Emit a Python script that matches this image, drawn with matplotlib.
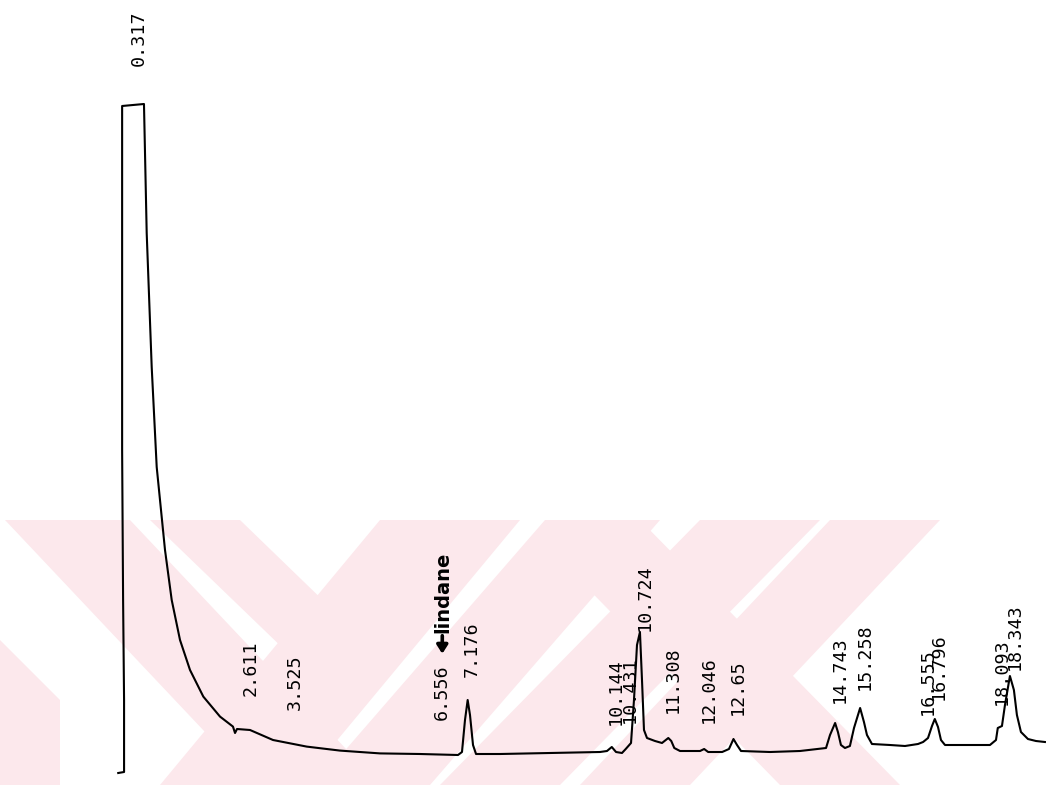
import numpy as np
import matplotlib
matplotlib.use("Agg")
import matplotlib.pyplot as plt
from matplotlib.patches import Polygon
from matplotlib.transforms import offset_copy

# Detector trace: retention time (min) and response (arbitrary units)
trace_time = [
    -0.02, 0.10, 0.10, 0.08, 0.06, 0.06, 0.06, 0.51, 0.566, 0.669, 0.772, 0.875,
    0.943, 1.081, 1.252, 1.458, 1.732, 2.076, 2.343, 2.385, 2.426, 2.694, 3.167,
    3.861, 4.547, 5.371, 6.194, 6.977, 7.059, 7.121, 7.176, 7.224, 7.286, 7.348,
    7.842, 8.871, 9.901, 10.045, 10.144, 10.231, 10.354, 10.431, 10.540, 10.601,
    10.663, 10.724, 10.766, 10.807, 10.869, 11.034, 11.178, 11.308, 11.369,
    11.431, 11.549, 11.961, 12.046, 12.129, 12.417, 12.557, 12.65, 12.723,
    12.805, 13.403, 14.020, 14.556, 14.638, 14.743, 14.801, 14.863, 14.946,
    15.048, 15.132, 15.258, 15.337, 15.399, 15.502, 15.873, 16.182, 16.450,
    16.555, 16.656, 16.738, 16.796, 16.862, 16.923, 17.006, 17.314, 17.932,
    18.056, 18.093, 18.179, 18.241, 18.343, 18.425, 18.487, 18.570, 18.714,
    18.879, 19.064,
]
trace_signal = [
    -1.00, -0.95, 2.65, 7.65, 15.15, 22.65, 32.35, 32.45, 26.0, 19.3, 14.3, 11.8,
    10.15, 7.65, 5.65, 4.15, 2.82, 1.82, 1.32, 1.00, 1.20, 1.15, 0.65,
    0.32, 0.12, -0.02, -0.05, -0.10, 0.05, 1.65, 2.65, 1.90, 0.40, -0.05,
    -0.05, 0.00, 0.05, 0.10, 0.30, 0.05, 0.00, 0.20, 0.50, 2.65,
    5.40, 6.05, 3.65, 1.15, 0.75, 0.60, 0.50, 0.75, 0.60,
    0.25, 0.10, 0.10, 0.20, 0.05, 0.05, 0.20, 0.70, 0.40,
    0.10, 0.05, 0.10, 0.25, 0.90, 1.50, 1.05, 0.40, 0.25,
    0.35, 1.25, 2.25, 1.55, 0.90, 0.45, 0.40, 0.35, 0.45,
    0.55, 0.75, 1.35, 1.70, 1.30, 0.65, 0.40, 0.40, 0.40,
    0.65, 1.25, 1.35, 2.40, 3.85, 3.15, 1.90, 1.05, 0.70,
    0.60, 0.55,
]

# Retention times printed by the integrator
peak_times = [0.317, 2.611, 3.525, 6.556, 7.176, 10.144, 10.431, 10.724,
              11.308, 12.046, 12.65, 14.743, 15.258, 16.555, 16.796,
              18.093, 18.343]
peak_labels = ["0.317", "2.611", "3.525", "6.556", "7.176", "10.144",
               "10.431", "10.724", "11.308", "12.046", "12.65", "14.743",
               "15.258", "16.555", "16.796", "18.093", "18.343"]
annotated_peak = "6.556"
annotation_text = "lindane"

# Gap (points) between the trace and the foot of each printed label
label_lift = [28, 24, 24, 24.5, 16.5, 16, 19, 1, 18, 19, 17, 14.5, 13,
              19.5, 13.7, 16.5, 4]

fig = plt.figure(figsize=(10.46, 7.85), dpi=100)
fig.patch.set_facecolor("white")

# Background stamp (figure pixel space)
wm = fig.add_axes([0, 0, 1, 1], zorder=0)
wm.set_xlim(0, 1046)
wm.set_ylim(785, 0)
wm.axis("off")
stamp = "#fce8ec"
bands = [
    [(5, 520), (130, 520), (380, 785), (255, 785)],
    [(150, 520), (240, 520), (333, 610), (290, 655)],
    [(380, 520), (520, 520), (300, 785), (160, 785)],
    [(0, 640), (60, 700), (60, 785), (0, 785)],
    [(545, 520), (660, 520), (430, 785), (315, 785)],
    [(560, 560), (640, 520), (900, 785), (780, 785)],
    [(700, 520), (820, 520), (560, 785), (440, 785)],
    [(830, 520), (940, 520), (690, 785), (580, 785)],
]
for b in bands:
    wm.add_patch(Polygon(b, closed=True, facecolor=stamp, edgecolor="none"))

ax = fig.add_axes([0, 0, 1, 1], zorder=1)
ax.patch.set_alpha(0)
ax.set_xlim(-2.455, 19.086)
ax.set_ylim(-1.6, 37.65)
ax.axis("off")

ax.plot(trace_time, trace_signal, color="black", lw=1.5, solid_joinstyle="round")

mono = "DejaVu Sans Mono"
for t, lab, lift in zip(peak_times, peak_labels, label_lift):
    y = np.interp(t, trace_time, trace_signal)
    ax.annotate(lab, xy=(t, y), xytext=(3.2, lift), textcoords="offset points",
                rotation=90, ha="center", va="bottom", family=mono,
                fontsize=13.2, color="black")
    if lab == annotated_peak:
        # hand-written note: bold arrow pointing down at the printed time
        tip = offset_copy(ax.transData, fig=fig, x=3.4, y=lift + 48, units="points")
        tail = offset_copy(ax.transData, fig=fig, x=3.4, y=lift + 61, units="points")
        ax.annotate("", xy=(t, y), xycoords=tip, xytext=(t, y), textcoords=tail,
                    arrowprops=dict(arrowstyle="-|>,head_length=0.5,head_width=0.32",
                                    lw=2.6, color="black", shrinkA=0, shrinkB=0))
        ax.annotate(annotation_text, xy=(t, y), xytext=(3.6, lift + 63),
                    textcoords="offset points", rotation=90, ha="center",
                    va="bottom", family="DejaVu Sans", fontweight="bold",
                    fontsize=14, color="black")

fig.savefig("out.png", dpi=100)
